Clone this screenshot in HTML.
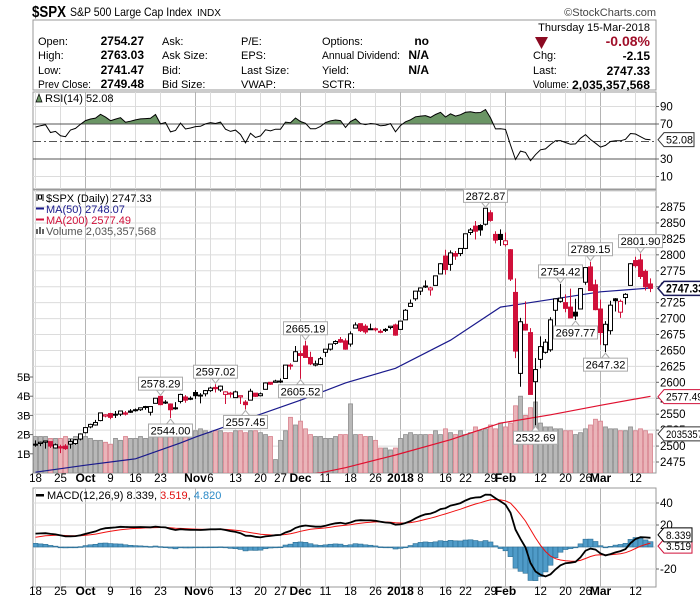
<!DOCTYPE html>
<html><head><meta charset="utf-8"><style>
html,body{margin:0;padding:0;background:#fff}
svg{display:block;font-family:"Liberation Sans",Arial,sans-serif}
</style></head><body>
<svg id="c" width="700" height="603" viewBox="0 0 700 603" xmlns="http://www.w3.org/2000/svg">
<rect x="0" y="0" width="700" height="603" fill="#fff"/>
<g>
<text x="32" y="17" font-size="16" font-weight="bold" textLength="34" lengthAdjust="spacingAndGlyphs">$SPX</text>
<text x="70" y="16" font-size="12" textLength="122" lengthAdjust="spacingAndGlyphs">S&amp;P 500 Large Cap Index</text>
<text x="197" y="16" font-size="10.5" textLength="24" lengthAdjust="spacingAndGlyphs">INDX</text>
<text x="656" y="16" font-size="11" fill="#444" text-anchor="end">©StockCharts.com</text>
</g>
<g font-size="11">
<rect x="33" y="20" width="623" height="70" fill="#fff" stroke="#999"/>
<text x="650" y="31" text-anchor="end">Thursday  15-Mar-2018</text>
<text x="38" y="45">Open:</text>
<text x="144" y="45" text-anchor="end" font-weight="bold" font-size="12">2754.27</text>
<text x="38" y="59">High:</text>
<text x="144" y="59" text-anchor="end" font-weight="bold" font-size="12">2763.03</text>
<text x="38" y="74">Low:</text>
<text x="144" y="74" text-anchor="end" font-weight="bold" font-size="12">2741.47</text>
<text x="38" y="88" textLength="53" lengthAdjust="spacingAndGlyphs">Prev Close:</text>
<text x="144" y="88" text-anchor="end" font-weight="bold" font-size="12">2749.48</text>
<text x="162" y="45">Ask:</text>
<text x="162" y="59">Ask Size:</text>
<text x="162" y="74">Bid:</text>
<text x="162" y="88">Bid Size:</text>
<text x="241" y="45">P/E:</text>
<text x="241" y="59">EPS:</text>
<text x="241" y="74">Last Size:</text>
<text x="241" y="88">VWAP:</text>
<text x="322" y="45">Options:</text>
<text x="322" y="59" textLength="78" lengthAdjust="spacingAndGlyphs">Annual Dividend:</text>
<text x="322" y="74">Yield:</text>
<text x="322" y="88">SCTR:</text>
<text x="429" y="45" text-anchor="end" font-weight="bold" font-size="12">no</text>
<text x="429" y="59" text-anchor="end" font-weight="bold" font-size="12">N/A</text>
<text x="429" y="74" text-anchor="end" font-weight="bold" font-size="12">N/A</text>
<polygon points="535,37 548,37 541.5,49" fill="#8b0a22"/>
<text x="650" y="46" text-anchor="end" font-weight="bold" font-size="14" fill="#a0102a">-0.08%</text>
<text x="533" y="59">Chg:</text>
<text x="650" y="60" text-anchor="end" font-weight="bold" font-size="12">-2.15</text>
<text x="533" y="74">Last:</text>
<text x="650" y="75" text-anchor="end" font-weight="bold" font-size="12">2747.33</text>
<text x="533" y="88" textLength="36" lengthAdjust="spacingAndGlyphs">Volume:</text>
<text x="572" y="89" font-weight="bold" font-size="12" textLength="78" lengthAdjust="spacingAndGlyphs">2,035,357,568</text>
</g>
<g id="chart"></g>
</svg>
<script>
// ---------- data ----------
const prevCloseSeed = 2500.87;
const opens = [2502,2504,2506,2507,2497,2499,2500,2503,2504,2511,
2521,2530,2533,2540,2547,2551,2549,2550,2552,2555,2556,2557,2562,2553,2567,2578,2568,2566,2560,2570,2577,2575,
2584,2579,2582,2587,2592,2588,2581,2583,2576,2577,2569,2572,2583,2579,2589,2600,2600,2602,2606,2627,2633,
2645,2657,2639,2627,2628,2647,2652,2661,2667,2665,2660,2685,2692,2688,2683,2684,2680,2683,2686,2690,
2683,2698,2719,2731,2743,2751,2745,2752,2770,2798,2785,2802,2802,2810,2835,2845,2846,2848,2866,2832,2832,
2816,2808,2741,2614,2691,2678,2601,2636,2647,2651,2713,2727,2725,2718,2710,2715,2757,2781,2753,
2715,2659,2681,2731,2710,2733,2752,2791,2792,2774,2754.27];
const highs = [2509,2507,2508,2507,2504,2502,2503,2511,2511,2520,
2529,2535,2541,2552,2550,2552,2555,2555,2555,2558,2559,2560,2563,2562,2575,2578.29,2572,2567,2569,2582,2580,2578,
2588,2583,2588,2593,2597.02,2595,2586,2585,2587,2579,2572,2590,2583,2584,2600,2600,2604,2606,2627,2630,2657,
2650,2665.19,2648,2634,2640,2652,2660,2666,2671,2669,2680,2694,2692,2691,2692,2686,2683,2685,2688,2692,
2696,2715,2730,2743,2749,2760,2750,2767,2787,2808,2807,2806,2810,2833,2842,2853,2848,2872.87,2870,2837,2840,
2835,2809,2763,2701,2727,2685,2638,2672,2668,2702,2731,2754.42,2738,2747,2731,2748,2780,2789.15,2761,
2730,2696,2728,2732,2730,2740,2787,2797,2801.9,2777,2763.03];
const lows = [2499,2500,2496,2497,2496,2489,2494,2496,2502,2509,
2520,2528,2532,2539,2545,2542,2544,2547,2548,2552,2554,2555,2557,2548,2567,2564,2566,2544,2557,2567,2568,2572,
2574,2567,2578,2585,2584,2585,2566,2576,2576,2566,2557.45,2572,2577,2578,2589,2596,2600,2599,2606,2620,2633,
2605.52,2639,2627,2625,2627,2640,2650,2659,2662,2651,2656,2685,2679,2676,2682,2680,2677,2679,2683,2673,
2683,2698,2719,2728,2737,2748,2736,2752,2770,2769,2775,2792,2798,2809,2831,2824,2830,2846,2852,2818,2814,
2813,2759,2638,2593,2681,2581,2532.69,2622,2645,2648,2689,2725,2710,2701,2697.77,2715,2753,2744,2713,
2659,2647.32,2675,2711,2701,2722,2752,2780,2762,2744,2741.47];
const closes = [2503,2506,2508,2500,2502,2497,2496,2507,2510,2519,
2529,2534,2537,2552,2549,2545,2550,2555,2550,2553,2557,2560,2561,2562,2575,2565,2569,2557,2560,2581,2572,2575,
2579,2580,2587,2591,2590,2594,2585,2582,2585,2579,2565,2586,2578,2582,2599,2597,2602,2602,2627,2626,2648,
2642,2639,2629,2629,2637,2652,2660,2664,2663,2652,2676,2690,2681,2679,2684,2683,2680,2682,2688,2674,
2696,2713,2724,2743,2748,2751,2748,2767,2786,2777,2803,2798,2810,2833,2839,2837,2839,2873,2854,2823,2824,
2822,2762,2649,2695,2682,2581,2620,2656,2663,2698,2731,2732,2716,2701,2704,2747,2780,2744,2714,
2678,2691,2721,2728,2727,2738,2786,2783,2766,2750,2747.33];
const volumes = [1.9,1.9,1.9,1.8,1.8,1.8,1.9,1.8,1.9,1.8,
1.9,1.8,1.7,1.7,1.6,1.5,1.8,1.7,1.9,1.8,1.8,1.9,1.8,2.0,2.2,2.2,2.3,2.2,2.3,2.3,2.2,2.4,
2.2,2.3,2.2,2.1,2.2,2.2,2.1,2.1,2.2,2.2,2.1,2.2,2.2,2.1,2.0,1.9,0.7,1.7,2.2,2.9,2.5,
2.7,2.3,2.0,1.9,1.9,1.8,1.8,1.9,2.0,2.0,3.6,2.0,2.0,1.9,1.9,1.7,1.3,1.3,1.2,1.3,
1.8,2.0,2.1,2.0,2.0,2.0,2.0,2.2,2.0,2.3,2.1,2.0,2.2,2.0,2.1,2.4,2.2,2.3,2.5,2.3,2.6,
2.4,2.6,3.5,4.0,3.0,3.4,3.7,2.6,2.4,2.4,2.3,2.3,2.2,2.2,2.0,2.1,2.3,2.5,2.8,
2.7,2.4,2.3,2.3,2.2,2.2,2.4,2.2,2.3,2.2,2.035];
const ma50Idx = [0,10,20,29,32,53,62,72,83,93,98,113,123];
const ma50Val = [2459,2470,2480,2505,2514,2572,2599,2622,2666,2718,2724,2742,2748];
const ma200Idx = [0,20,40,57,62,72,83,93,103,113,123];
const ma200Val = [2395,2418,2440,2458,2466,2486,2510,2536,2549,2564,2578];
const annotIdx = [25,27,36,42,54,53,90,100,105,108,111,114,121];
const annotType = ['h','l','h','l','h','l','h','l','h','l','h','l','h'];
const priceTicks = [2475,2500,2525,2550,2575,2600,2625,2650,2675,2700,2725,2750,2775,2800,2825,2850,2875];
const volTicks = [1,2,3,4,5];
const volTickLabels = ['1B','2B','3B','4B','5B'];
const rsiTicks = [10,30,70,90];
const macdTicks = [-20,0,20,40];
const dateLabels = ['18','25','Oct','9','16','23','Nov','6','13','20','27','Dec','11','18','26','2018','8','16','22','29','Feb','12','20','26','Mar','12'];
const dateIdx = [0,5,10,15,20,25,32,35,40,45,49,53,58,63,68,73,77,82,86,91,94,101,106,110,113,120];
const dateMajor = [0,0,1,0,0,0,1,0,0,0,0,1,0,0,0,1,0,0,0,0,1,0,0,0,1,0];
// indicator seeds (values from before the visible window)
const rsiSeedGain = 3.0, rsiSeedLoss = 1.6;
const ema12Seed = 2490, ema26Seed = 2478, signalSeed = 8;

// ---------- scales ----------
const L = 33, R = 656, SLOTS = 124.6, STEP = (R - L) / SLOTS;
const xS = i => L + (i + 0.5) * STEP;
const yP = p => 207 + (2875 - p) * 0.6375;
const yV = v => 473 - v * 19.2;
const yR = r => 141.5 - (r - 50) * 0.875;
const yM = m => 547 - m * 1.1;
const P = {rsiT:92, rsiB:189, mT:190, mB:473, macdT:488, macdB:587};

const NS = 'http://www.w3.org/2000/svg';
const root = document.getElementById('chart');
function mk(tag, attrs, parent) {
  const e = document.createElementNS(NS, tag);
  for (const k in attrs) e.setAttribute(k, attrs[k]);
  (parent || root).appendChild(e);
  return e;
}
function grp(name) {
  const g = mk('g', {});
  
  
  return g;
}

const defs = mk('defs', {});
[['clipMain', P.mT, P.mB], ['clipRsi', P.rsiT, P.rsiB], ['clipMacd', P.macdT, P.macdB]].forEach(([id, t, b]) => {
  const cp = mk('clipPath', {id}, defs);
  mk('rect', {x: L, y: t, width: R - L, height: b - t}, cp);
});
const cpA = mk('clipPath', {id: 'clipAbove70'}, defs);
mk('rect', {x: L, y: P.rsiT, width: R - L, height: yR(70) - P.rsiT}, cpA);
const cpB = mk('clipPath', {id: 'clipBelow30'}, defs);
mk('rect', {x: L, y: yR(30), width: R - L, height: P.rsiB - yR(30)}, cpB);

// ---------- panels and grids ----------
const panels = [['rsi-panel', P.rsiT, P.rsiB], ['price-panel', P.mT, P.mB], ['macd-panel', P.macdT, P.macdB]];
panels.forEach(([name, t, b]) => {
  const g = grp(name);
  mk('rect', {x: L, y: t, width: R - L, height: b - t, fill: '#fff', stroke: '#999'}, g);
  dateIdx.forEach((di, k) => {
    const ln = mk('line', {x1: xS(di), x2: xS(di), y1: t, y2: b, stroke: dateMajor[k] ? '#b4b4b4' : '#dcdcdc', 'stroke-width': 1}, g);
    
    
  });
});
const pg = grp('price-grid');
for (let p = 2450; p <= 2900; p += 25) {
  const y = yP(p);
  if (y < P.mT || y > P.mB) continue;
  mk('line', {x1: L, x2: R, y1: y, y2: y, stroke: '#dcdcdc'}, pg);
}
const pAxis = grp('price-axis');
priceTicks.forEach(p => {
  const t = mk('text', {x: 660, y: yP(p) + 4, 'font-size': 11.5}, pAxis);
  t.textContent = p;
  
  
  mk('line', {x1: R, x2: R + 3, y1: yP(p), y2: yP(p), stroke: '#666'}, pAxis);
});
const vAxis = grp('volume-axis');
volTicks.forEach((v, k) => {
  const t = mk('text', {x: 17, y: yV(v) + 4, 'font-size': 11}, vAxis);
  t.textContent = volTickLabels[k];
  
  
  mk('line', {x1: L - 4, x2: L, y1: yV(v), y2: yV(v), stroke: '#666'}, vAxis);
});

// ---------- volume ----------
const vg = grp('volume-bars');
vg.setAttribute('clip-path', 'url(#clipMain)');
volumes.forEach((v, i) => {
  const pc = i ? closes[i - 1] : prevCloseSeed;
  const down = closes[i] < pc;
  const r = mk('rect', {x: xS(i) - STEP / 2 + 0.5, y: yV(v), width: STEP - 1, height: 473 - yV(v),
    fill: down ? '#eab4b9' : '#b8b8b8', stroke: down ? '#d7808c' : '#8c8c8c', 'stroke-width': 0.8}, vg);
  
  
});

// ---------- moving averages ----------
function pathFrom(idx, vals, yf) {
  return idx.map((d, k) => (k ? 'L' : 'M') + xS(d).toFixed(1) + ',' + yf(vals[k]).toFixed(1)).join('');
}
const ma200 = mk('path', {d: pathFrom(ma200Idx, ma200Val, yP), fill: 'none', stroke: '#e0102f', 'stroke-width': 1.2, 'clip-path': 'url(#clipMain)'});


const ma50 = mk('path', {d: pathFrom(ma50Idx, ma50Val, yP), fill: 'none', stroke: '#1a1a8c', 'stroke-width': 1.2, 'clip-path': 'url(#clipMain)'});



// ---------- candles ----------
const cg = grp('candles');
cg.setAttribute('clip-path', 'url(#clipMain)');
closes.forEach((c, i) => {
  const o = opens[i], pc = i ? closes[i - 1] : prevCloseSeed;
  const col = c < pc ? '#d0103a' : '#000';
  const hollow = c > o;
  const x = xS(i);
  const w = mk('line', {x1: x, x2: x, y1: yP(highs[i]), y2: yP(lows[i]), stroke: col, 'stroke-width': 1}, cg);
  
  
  const top = yP(Math.max(o, c)), bot = yP(Math.min(o, c));
  const b = mk('rect', {x: x - 2, y: top, width: 4, height: Math.max(1, bot - top),
    fill: hollow ? '#fff' : col, stroke: col, 'stroke-width': 1}, cg);
  
  
});

// ---------- annotations ----------
const ag = grp('price-annotations');
annotIdx.forEach((i, k) => {
  const hi = annotType[k] === 'h';
  const val = hi ? highs[i] : lows[i];
  const x = xS(i), y = yP(val);
  const bw = 44, bh = 13;
  const by = hi ? y - 6 - bh : y + 6;
  mk('polygon', {points: hi ? `${x-4},${by+bh} ${x+4},${by+bh} ${x},${y-1}` : `${x-4},${by} ${x+4},${by} ${x},${y+1}`, fill: '#fff', stroke: '#aaa'}, ag);
  const r = mk('rect', {x: x - bw / 2, y: by, width: bw, height: bh, fill: '#fff', stroke: '#aaa'}, ag);
  
  
  const t = mk('text', {x: x, y: by + 10.5, 'font-size': 11, 'text-anchor': 'middle'}, ag);
  t.textContent = val.toFixed(2);
  
  
});

function tag(y, txt, stroke, bold, name, w) {
  const g = grp(name);
  const ww = w || 34;
  mk('polygon', {points: `${R+2},${y} ${R+8},${y-7} ${R+8+ww},${y-7} ${R+8+ww},${y+7} ${R+8},${y+7}`, fill: '#fff', stroke: stroke, 'stroke-width': bold ? 1.5 : 1}, g);
  const t = mk('text', {x: R + 10, y: y + 4, 'font-size': bold ? 11.5 : 11, 'font-weight': bold ? 'bold' : 'normal', textLength: ww - 3, lengthAdjust: 'spacingAndGlyphs'}, g);
  t.textContent = txt;
  return g;
}
tag(yP(closes[closes.length - 1]), closes[closes.length - 1].toFixed(2), '#1a1a5a', true, 'last-price-tag', 41);
tag(yP(ma200Val[ma200Val.length - 1] - 0.5), '2577.49', '#d0103a', false, 'ma200-tag', 40);
tag(yV(volumes[volumes.length - 1]), '2035357', '#333', false, 'volume-tag', 40);

const lg = grp('price-legend');
[['$SPX (Daily) 2747.33', '#000', 201], ['MA(50) 2748.07', '#1a1a8c', 212], ['MA(200) 2577.49', '#d0103a', 223], ['Volume 2,035,357,568', '#555', 234]].forEach(([s, col, y], k) => {
  if (k === 1 || k === 2) mk('rect', {x: 36, y: y - 4.5, width: 8, height: 2, fill: col}, lg);
  else if (k === 0) { mk('line', {x1: 37, x2: 37, y1: y - 7, y2: y, stroke: '#000'}, lg); mk('rect', {x: 38.5, y: y - 6, width: 3, height: 4, fill: '#fff', stroke: '#000'}, lg); mk('line', {x1: 43, x2: 43, y1: y - 7, y2: y, stroke: '#000'}, lg); }
  else { [0, 3, 6].forEach((d, j) => mk('rect', {x: 36 + d, y: y - 7 + (j === 1 ? 0 : 2), width: 2, height: 7 - (j === 1 ? 0 : 2), fill: '#666'}, lg)); }
  const t = mk('text', {x: 46, y: y + 1, 'font-size': 11, fill: col}, lg);
  t.textContent = s;
});

// ---------- RSI ----------
const rsi = [];
let ag14 = rsiSeedGain, al14 = rsiSeedLoss;
closes.forEach((c, i) => {
  const d = c - (i ? closes[i - 1] : prevCloseSeed);
  ag14 = (ag14 * 13 + Math.max(d, 0)) / 14;
  al14 = (al14 * 13 + Math.max(-d, 0)) / 14;
  rsi.push(100 - 100 / (1 + ag14 / al14));
});
const rg = grp('rsi-chart');
[90, 10].forEach(v => mk('line', {x1: L, x2: R, y1: yR(v), y2: yR(v), stroke: '#dcdcdc'}, rg));
const rsiPts = rsi.map((v, i) => xS(i).toFixed(1) + ',' + yR(v).toFixed(1));
const fillPoly = `${xS(0)},${yR(70)} ` + rsiPts.join(' ') + ` ${xS(rsi.length-1)},${yR(70)}`;
const fa = mk('polygon', {points: fillPoly, fill: '#6b9565', 'clip-path': 'url(#clipAbove70)'}, rg);


const fillPoly2 = `${xS(0)},${yR(30)} ` + rsiPts.join(' ') + ` ${xS(rsi.length-1)},${yR(30)}`;
mk('polygon', {points: fillPoly2, fill: '#c86070', 'clip-path': 'url(#clipBelow30)'}, rg);
mk('line', {x1: L, x2: R, y1: yR(70), y2: yR(70), stroke: '#555'}, rg);
mk('line', {x1: L, x2: R, y1: yR(30), y2: yR(30), stroke: '#555'}, rg);
mk('line', {x1: L, x2: R, y1: yR(50), y2: yR(50), stroke: '#555', 'stroke-dasharray': '8,3,2,3'}, rg);
const rl = mk('polyline', {points: rsiPts.join(' '), fill: 'none', stroke: '#000', 'stroke-width': 1, 'clip-path': 'url(#clipRsi)'}, rg);


rsiTicks.forEach(v => {
  const t = mk('text', {x: 660, y: yR(v) + 4, 'font-size': 11.5}, rg);
  t.textContent = v;
  mk('line', {x1: R, x2: R + 3, y1: yR(v), y2: yR(v), stroke: '#666'}, rg);
});
tag(yR(rsi[rsi.length - 1]), rsi[rsi.length - 1].toFixed(2), '#333', false, 'rsi-value-tag', 30);
const rLeg = mk('text', {x: 45, y: 102, 'font-size': 11}, rg);
rLeg.textContent = 'RSI(14) ' + rsi[rsi.length - 1].toFixed(2);
mk('polygon', {points: '36,102 39,94 42,102', fill: '#6b9565', stroke: '#000', 'stroke-width': 0.7}, rg);

// ---------- MACD ----------
const macd = [], sig = [], hist = [];
let e12 = ema12Seed, e26 = ema26Seed, s9 = signalSeed;
closes.forEach(c => {
  e12 += (c - e12) * 2 / 13;
  e26 += (c - e26) * 2 / 27;
  const m = e12 - e26;
  s9 += (m - s9) * 0.2;
  macd.push(m); sig.push(s9); hist.push(m - s9);
});
const mg = grp('macd-chart');
mg.setAttribute('clip-path', 'url(#clipMacd)');
macdTicks.forEach(v => mk('line', {x1: L, x2: R, y1: yM(v), y2: yM(v), stroke: '#dcdcdc'}, mg));
hist.forEach((h, i) => {
  const y0 = yM(0), y1 = yM(h);
  const r = mk('rect', {x: xS(i) - STEP / 2, y: Math.min(y0, y1), width: STEP, height: Math.max(0.8, Math.abs(y1 - y0)), fill: '#4f9bc8', stroke: '#2a6d93', 'stroke-width': 0.6}, mg);
  
  
});
const sl = mk('polyline', {points: sig.map((v, i) => xS(i).toFixed(1) + ',' + yM(v).toFixed(1)).join(' '), fill: 'none', stroke: '#f01010', 'stroke-width': 1}, mg);


const ml = mk('polyline', {points: macd.map((v, i) => xS(i).toFixed(1) + ',' + yM(v).toFixed(1)).join(' '), fill: 'none', stroke: '#000', 'stroke-width': 1.8}, mg);


const mAx = grp('macd-axis');
macdTicks.forEach(v => {
  if (v === 0) return;
  const t = mk('text', {x: 660, y: yM(v) + 4, 'font-size': 11.5}, mAx);
  t.textContent = v;
  mk('line', {x1: R, x2: R + 3, y1: yM(v), y2: yM(v), stroke: '#666'}, mAx);
});
const last = closes.length - 1;
tag(yM(sig[last]) + 3, sig[last].toFixed(3), '#d0103a', false, 'signal-value-tag', 28);
tag(yM(macd[last]) - 3, macd[last].toFixed(3), '#000', false, 'macd-value-tag', 28);
const mLegG = grp('macd-legend');
mk('rect', {x: 36, y: 494, width: 8, height: 2.5, fill: '#000'}, mLegG);
const mLeg = mk('text', {x: 47, y: 499, 'font-size': 11}, mLegG);
mLeg.innerHTML = 'MACD(12,26,9) ' + macd[last].toFixed(3) + ', <tspan fill="#e01010">' + sig[last].toFixed(3) + '</tspan>, <tspan fill="#2a8ac8">' + hist[last].toFixed(3) + '</tspan>';

// ---------- date axes ----------
[482, 595].forEach((yy, a) => {
  const g = grp(a ? 'macd-date-axis' : 'price-date-axis');
  dateLabels.forEach((s, k) => {
    const t = mk('text', {x: xS(dateIdx[k]), y: yy, 'font-size': dateMajor[k] ? 12 : 11.5, 'font-weight': dateMajor[k] ? 'bold' : 'normal', 'text-anchor': 'middle'}, g);
    t.textContent = s;
    
    
  });
});
</script>
</body></html>
